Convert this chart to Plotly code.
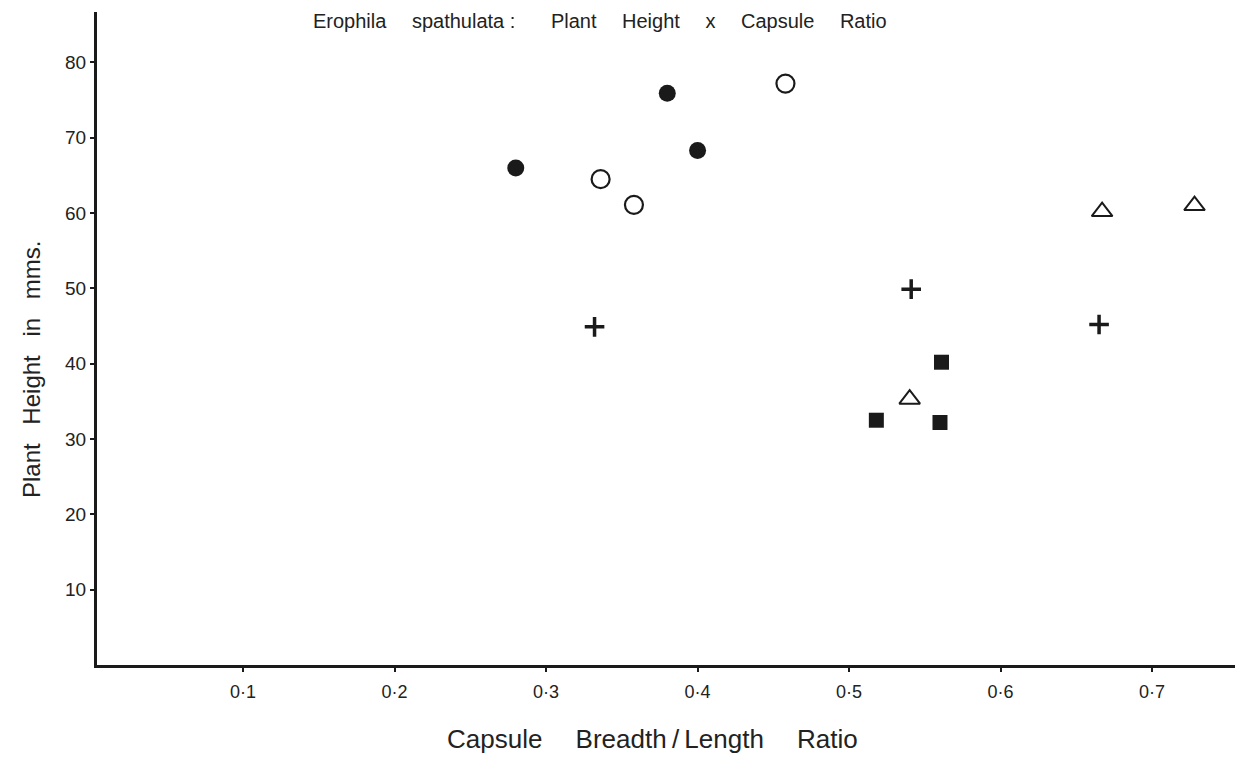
import plotly.graph_objects as go

# Data
filled_x = [0.280, 0.380, 0.400]
filled_y = [66.0, 75.9, 68.3]
open_x = [0.336, 0.358, 0.458]
open_y = [64.5, 61.1, 77.2]
plus_x = [0.332, 0.541, 0.665]
plus_y = [44.9, 49.9, 45.2]
tri_x = [0.540, 0.667, 0.728]
tri_y = [35.3, 60.2, 61.0]
sq_x = [0.518, 0.561, 0.560]
sq_y = [32.5, 40.2, 32.2]

x_ticks = [0.1, 0.2, 0.3, 0.4, 0.5, 0.6, 0.7]
x_tick_text = ["0·1", "0·2", "0·3", "0·4", "0·5", "0·6", "0·7"]
y_ticks = [10, 20, 30, 40, 50, 60, 70, 80]
y_tick_text = ["10", "20", "30", "40", "50", "60", "70", "80"]

G = "\u2003\u00a0"   # wide word gap, as in the typewritten original
title_text = "Erophila" + G + "spathulata\u00a0:" + G + "\u2002Plant" + G + "Height" + G + "x" + G + "Capsule" + G + "Ratio"
x_title = "Capsule" + G + "Breadth\u2009/\u2009Length" + G + "Ratio"
y_title = "Plant\u2002\u00a0Height\u2002\u00a0in\u2002\u00a0mms."

ink = "#1a1a1a"
txt = "#222222"

# the page body adds an 8 px offset; margins compensate for it
OFF = 8

fig = go.Figure()
fig.add_trace(go.Scatter(x=filled_x, y=filled_y, mode="markers",
                         marker=dict(symbol="circle", size=17, color=ink)))
fig.add_trace(go.Scatter(x=open_x, y=open_y, mode="markers",
                         marker=dict(symbol="circle-open", size=18, color=ink,
                                     line=dict(width=2.2, color=ink))))
fig.add_trace(go.Scatter(x=plus_x, y=plus_y, mode="markers",
                         marker=dict(symbol="cross-thin", size=14, color=ink,
                                     line=dict(width=3.5, color=ink))))
fig.add_trace(go.Scatter(x=tri_x, y=tri_y, mode="markers",
                         marker=dict(symbol="triangle-up-open", size=18, color=ink,
                                     line=dict(width=2, color=ink))))
fig.add_trace(go.Scatter(x=sq_x, y=sq_y, mode="markers",
                         marker=dict(symbol="square", size=15, color=ink)))

fig.update_layout(
    width=1243, height=758,
    margin=dict(l=97 - OFF, r=OFF, t=12 - OFF, b=93 + OFF, autoexpand=False),
    paper_bgcolor="white", plot_bgcolor="white",
    showlegend=False,
    font=dict(family="Liberation Sans, Arial, sans-serif", color=txt),
)
fig.update_xaxes(
    range=[0.0036, 0.760], tickvals=x_ticks, ticktext=x_tick_text,
    showgrid=False, zeroline=False, showline=True, linecolor=ink, linewidth=3,
    ticks="outside", ticklen=4, tickwidth=2, tickcolor=ink,
    tickfont=dict(size=18),
    ticklabelstandoff=4,
)
fig.update_yaxes(
    range=[0, 86.7], tickvals=y_ticks, ticktext=y_tick_text,
    showgrid=False, zeroline=False, showline=True, linecolor=ink, linewidth=3,
    ticks="outside", ticklen=4, tickwidth=2, tickcolor=ink,
    tickfont=dict(size=19),
    ticklabelstandoff=0,
)

fig.add_annotation(text=title_text, xref="paper", yref="paper", x=(600 - 97) / 1146, y=1,
                   xanchor="center", yanchor="top", yshift=4, showarrow=False,
                   font=dict(size=20, color=txt))
fig.add_annotation(text=x_title, xref="paper", yref="paper", x=(652 - 97) / 1146, y=0,
                   xanchor="center", yanchor="middle", yshift=-(739 - 665), showarrow=False,
                   font=dict(size=26, color=txt))
fig.add_annotation(text=y_title, xref="paper", yref="paper", x=0, y=(665 - 370) / 653,
                   xanchor="center", yanchor="middle", xshift=-(97 - 31), textangle=-90, showarrow=False,
                   font=dict(size=24, color=txt))

fig.write_html("out.html")
